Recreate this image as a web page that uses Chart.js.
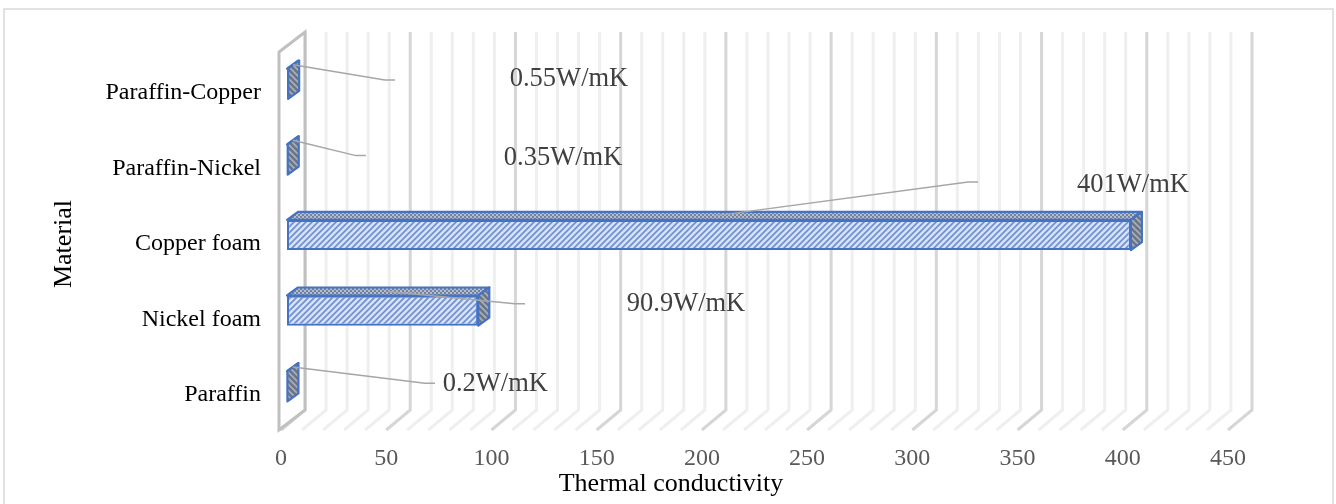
<!DOCTYPE html>
<html>
<head>
<meta charset="utf-8">
<script src="https://cdn.jsdelivr.net/npm/chart.js@4"></script>
<style>
html, body { margin: 0; padding: 0; background: #fff; }
canvas { display: block; }
</style>
</head>
<body>
<canvas id="canvas" width="1336" height="504"></canvas>
<script>
// DATA (bottom to top, as in the sheet)
const materials = ['Paraffin', 'Nickel foam', 'Copper foam', 'Paraffin-Nickel', 'Paraffin-Copper'];
const conductivity = [0.2, 90.9, 401, 0.35, 0.55];
const unit = 'W/mK';
const xTicks = [0, 50, 100, 150, 200, 250, 300, 350, 400, 450];

// where the data labels were dragged to, in axis units (value, category index)
const labelAtX = [99, 189.6, 402, 131.2, 134];
const labelAtY = [0.03, 1.09, 2.66, 3.02, 4.06];
const leaderEndX = [70.3, 113.1, 328.4, 37.5, 51.3];
const leaderEndY = [0.04, 1.09, 2.7, 3.05, 4.05];

const SERIF = '"Liberation Serif", "Times New Roman", serif';
const FRONT = { dx: -6, dy: 6 };   // floor front edge vs bar plane
const BACK = { dx: 18, dy: -14 };  // back wall vs bar plane
const DEPTH = { dx: 11, dy: -8 };  // bar depth

function makePattern(size, draw) {
    const c = document.createElement('canvas');
    c.width = c.height = size;
    const g = c.getContext('2d');
    draw(g, size);
    return g.createPattern(c, 'repeat');
}

// light blue with dark blue "/" hatch
const frontFill = makePattern(6, (g, s) => {
    g.fillStyle = '#d9e3f5';
    g.fillRect(0, 0, s, s);
    g.strokeStyle = '#6f90d4';
    g.lineWidth = 1.7;
    g.beginPath();
    g.moveTo(-1, s + 1); g.lineTo(s + 1, -1);
    g.moveTo(-1, 1); g.lineTo(1, -1);
    g.moveTo(s - 1, s + 1); g.lineTo(s + 1, s - 1);
    g.stroke();
});

// top face: small grey checker
const topFill = makePattern(4, (g, s) => {
    g.fillStyle = '#b3bdd1';
    g.fillRect(0, 0, s, s);
    g.fillStyle = '#76829a';
    g.fillRect(0, 0, 2, 2);
    g.fillRect(2, 2, 2, 2);
});

// end face: dark grey with lighter "\" stripes
const sideFill = makePattern(6, (g, s) => {
    g.fillStyle = '#6d7585';
    g.fillRect(0, 0, s, s);
    g.strokeStyle = '#a9b0bd';
    g.lineWidth = 1.6;
    g.beginPath();
    g.moveTo(-1, -1); g.lineTo(s + 1, s + 1);
    g.moveTo(s - 1, -1); g.lineTo(s + 1, 1);
    g.moveTo(-1, s - 1); g.lineTo(1, s + 1);
    g.stroke();
});

function poly(ctx, pts, fill, stroke) {
    ctx.beginPath();
    ctx.moveTo(pts[0][0], pts[0][1]);
    for (let i = 1; i < pts.length; i++) ctx.lineTo(pts[i][0], pts[i][1]);
    ctx.closePath();
    if (fill) { ctx.fillStyle = fill; ctx.fill(); }
    if (stroke) { ctx.strokeStyle = stroke; ctx.stroke(); }
}

const fake3d = {
    id: 'fake3d',
    beforeDraw(chart) {
        const ctx = chart.ctx;
        ctx.save();
        ctx.fillStyle = '#fff';
        ctx.fillRect(0, 0, chart.width, chart.height);
        ctx.strokeStyle = '#d9d9d9';
        ctx.lineWidth = 1.5;
        ctx.strokeRect(4, 9, 1329, 520);
        ctx.restore();
    },
    beforeDatasetsDraw(chart) {
        const { ctx, chartArea: a, scales: { x } } = chart;
        ctx.save();
        ctx.lineWidth = 3;
        for (let v = 0; v <= 450; v += 10) {
            const px = x.getPixelForValue(v);
            ctx.strokeStyle = v % 50 === 0 ? '#d6d6d6' : '#efefef';
            ctx.beginPath();
            ctx.moveTo(px + FRONT.dx, a.bottom + FRONT.dy);
            ctx.lineTo(px + BACK.dx, a.bottom + BACK.dy);
            ctx.lineTo(px + BACK.dx, a.top + BACK.dy);
            ctx.stroke();
        }
        // left side wall
        const x0 = x.getPixelForValue(0);
        poly(ctx, [
            [x0 + FRONT.dx - 2, a.top + FRONT.dy],
            [x0 + BACK.dx, a.top + BACK.dy],
            [x0 + BACK.dx, a.bottom + BACK.dy],
            [x0 + FRONT.dx - 2, a.bottom + FRONT.dy]
        ], '#fff', '#c0c0c0');
        ctx.restore();
    },
    afterDatasetsDraw(chart) {
        const { ctx, scales: { x, y } } = chart;
        const meta = chart.getDatasetMeta(0);
        ctx.save();
        ctx.lineWidth = 2.2;
        ctx.lineJoin = 'round';
        meta.data.forEach((bar) => {
            const p = bar.getProps(['x', 'y', 'base', 'height'], true);
            const top = p.y - p.height / 2, bot = p.y + p.height / 2;
            const x0 = p.base, x1 = p.x;
            poly(ctx, [[x0, top], [x1, top], [x1 + DEPTH.dx, top + DEPTH.dy], [x0 + DEPTH.dx, top + DEPTH.dy]], topFill, '#4472c4');
            poly(ctx, [[x1, top], [x1 + DEPTH.dx, top + DEPTH.dy], [x1 + DEPTH.dx, bot + DEPTH.dy], [x1, bot]], sideFill, '#4472c4');
        });

        // leader lines + data labels
        ctx.lineWidth = 1.5;
        ctx.strokeStyle = '#a6a6a6';
        ctx.fillStyle = '#404040';
        ctx.font = '26.5px ' + SERIF;
        ctx.textAlign = 'center';
        ctx.textBaseline = 'middle';
        conductivity.forEach((v, i) => {
            const bar = meta.data[i];
            const sx = x.getPixelForValue(v / 2) + DEPTH.dx / 2;
            const sy = bar.y - bar.height / 2 + DEPTH.dy / 2;
            const ex = x.getPixelForValue(leaderEndX[i]);
            const ey = y.getPixelForValue(leaderEndY[i]);
            ctx.beginPath();
            ctx.moveTo(sx, sy);
            ctx.lineTo(ex - 10, ey);
            ctx.lineTo(ex, ey);
            ctx.stroke();
            ctx.fillText(v + unit, x.getPixelForValue(labelAtX[i]), y.getPixelForValue(labelAtY[i]));
        });
        ctx.restore();
    },
    afterDraw(chart) {
        const ctx = chart.ctx;
        ctx.save();
        ctx.fillStyle = '#000';
        ctx.font = '26px ' + SERIF;
        ctx.textAlign = 'center';
        ctx.textBaseline = 'middle';
        ctx.fillText('Thermal conductivity', 671, 484);
        ctx.translate(64, 244);
        ctx.rotate(-Math.PI / 2);
        ctx.fillText('Material', 0, 0);
        ctx.restore();
    }
};

const ctx = document.getElementById('canvas').getContext('2d');

const myChart = new Chart(ctx, {
    type: 'bar',
    data: {
        labels: materials,
        datasets: [{
            label: 'Thermal conductivity',
            data: conductivity,
            backgroundColor: frontFill,
            borderColor: '#4472c4',
            borderWidth: 2.2,
            borderSkipped: false,
            barPercentage: 0.4,
            categoryPercentage: 1
        }]
    },
    options: {
        indexAxis: 'y',
        responsive: false,
        animation: false,
        layout: { padding: { top: 46, right: 102, left: 0, bottom: 0 } },
        plugins: {
            legend: { display: false },
            tooltip: { enabled: false }
        },
        scales: {
            x: {
                min: 0,
                max: 450,
                grid: { display: false },
                border: { display: false },
                afterFit: (s) => { s.height = 80; },
                afterBuildTicks: (s) => { s.ticks = xTicks.map(v => ({ value: v })); },
                ticks: {
                    font: { family: SERIF, size: 24 },
                    color: '#595959',
                    padding: 12,
                    labelOffset: -6,
                    maxRotation: 0
                }
            },
            y: {
                reverse: true,
                grid: { display: false },
                border: { display: false },
                afterFit: (s) => { s.width = 287; },
                ticks: {
                    font: { family: SERIF, size: 24 },
                    color: '#000',
                    padding: 18,
                    labelOffset: 9
                }
            }
        }
    },
    plugins: [fake3d]
});
</script>
</body>
</html>
